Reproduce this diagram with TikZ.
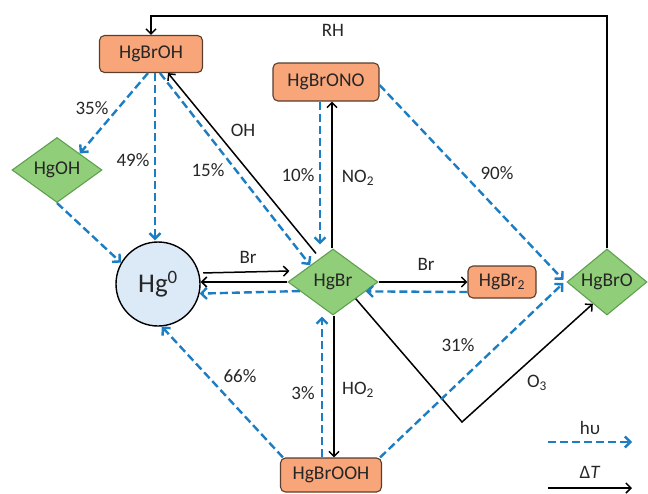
\documentclass[tikz,border=0pt]{standalone}
\usepackage{fontspec}
\setmainfont{Carlito}
\usetikzlibrary{shapes.geometric,arrows.meta,calc}
\definecolor{orfill}{RGB}{248,165,122}
\definecolor{ordraw}{RGB}{90,62,45}
\definecolor{grfill}{RGB}{145,206,122}
\definecolor{grdraw}{RGB}{95,160,80}
\definecolor{cirfill}{RGB}{220,233,247}
\definecolor{bcol}{RGB}{28,125,194}
\definecolor{tcol}{RGB}{38,38,38}
\begin{document}
\begin{tikzpicture}[x=1pt,y=-1pt,
  every node/.style={text=tcol},
  obox/.style={rectangle, rounded corners=5pt, draw=ordraw, line width=1.1pt, fill=orfill, font=\fontsize{19.5}{22}\selectfont, inner sep=0pt},
  gdia/.style={diamond, aspect=1.4, draw=grdraw, line width=1.1pt, fill=grfill, font=\fontsize{19.5}{22}\selectfont, inner sep=0pt},
  lbl/.style={font=\fontsize{19}{21}\selectfont, inner sep=0pt},
  bl/.style={draw=bcol, line width=2.4pt, dash pattern=on 8pt off 4pt, -{Straight Barb[length=5.5pt,width=11pt]}},
  bk/.style={draw=black, line width=1.5pt, -{Straight Barb[length=5pt,width=10pt]}}]
\useasboundingbox (0,0) rectangle (648,493);

% nodes
\node[obox, minimum width=103pt, minimum height=37pt] (HgBrOH) at (151,54) {HgBrOH};
\node[obox, minimum width=106pt, minimum height=38pt] (HgBrONO) at (326,82) {HgBrONO};
\node[gdia, minimum width=90pt, minimum height=65pt] (HgOH) at (57,170) {HgOH};
\node[circle, draw=black, line width=1.4pt, fill=cirfill, minimum size=84pt, inner sep=0pt, font=\fontsize{27}{30}\selectfont] (Hg0) at (158,284) {Hg\textsuperscript{0}};
\node[gdia, minimum width=90pt, minimum height=66pt] (HgBr) at (333,282) {HgBr};
\node[obox, minimum width=68pt, minimum height=32pt] (HgBr2) at (502,282) {HgBr\textsubscript{2}};
\node[gdia, minimum width=80pt, minimum height=66pt] (HgBrO) at (607,282) {HgBrO};
\node[obox, minimum width=101pt, minimum height=34pt] (HgBrOOH) at (331,475) {HgBrOOH};

% RH loop
\coordinate (rhc) at (151,16);
\draw[bk] (HgBrO.north) |- (rhc) -- (HgBrOH.north);
\node[lbl] (lRH) at (333,30) {RH};

% from HgBrOH
\draw[bl] ([xshift=-3pt]HgBrOH.south) -- (HgOH.north east);
\draw[bl] ([xshift=4pt]HgBrOH.south) -- ([xshift=4pt,yshift=1pt]HgBrOH.south |- Hg0.north);
\draw[bl] ([xshift=9pt]HgBrOH.south) -- (HgBr.north west);
\draw[bk] ($(HgBr.north)+(-17,5)$) -- ([xshift=17pt]HgBrOH.south);
\node[lbl] (l35) at (92,108) {35\%};
\node[lbl] (l49) at (133,160) {49\%};
\node[lbl] (l15) at (208,170) {15\%};
\node[lbl] (lOH) at (243,130) {OH};

% HgOH -> Hg0
\draw[bl] (HgOH.south) -- (Hg0.150);

% HgBrONO
\draw[bl] ([xshift=-6pt]HgBrONO.south) -- ([xshift=-13pt,yshift=4pt]HgBr.north);
\draw[bk] ([xshift=-1pt]HgBr.north) -- ([xshift=6pt]HgBrONO.south);
\draw[bl] ([yshift=-3pt]HgBrONO.east) -- ([xshift=-3pt,yshift=2pt]HgBrO.west);
\node[lbl] (l10) at (298,175) {10\%};
\node[lbl] (lNO2) at (358,178) {NO\textsubscript{2}};
\node[lbl] (l90) at (497,173) {90\%};

% Hg0 <-> HgBr
\draw[bk] ([xshift=4pt]Hg0.15) -- ([xshift=2pt,yshift=11pt]HgBr.west);
\draw[bk] (HgBr.west) -- (Hg0.east |- HgBr.west);
\draw[bl] ($(HgBr.west)!0.27!(HgBr.south)$) -- (Hg0.-13);
\node[lbl] (lBr1) at (248,257) {Br};

% HgBr <-> HgBr2
\draw[bk] (HgBr.east) -- (HgBr2.west);
\draw[bl] ([yshift=-10pt]HgBr2.west) -- ($(HgBr.east)!0.28!(HgBr.south)$);
\node[lbl] (lBr2) at (426,264) {Br};

% O3 path
\coordinate (o3c) at (462,422);
\draw[bk] (HgBr.south east) -- (o3c) -- ($(HgBrO.south west)!0.3!(HgBrO.south)$);
\node[lbl] (lO3) at (537,383) {O\textsubscript{3}};

% HgBrOOH
\draw[bl] ([xshift=-2pt]HgBrOOH.north east) -- ([xshift=-3pt,yshift=-1pt]HgBrO.west);
\draw[bl] ([xshift=3pt]HgBrOOH.north west) -- (Hg0.-85);
\draw[bl] ([xshift=-9pt]HgBrOOH.north) -- ([xshift=-11pt,yshift=-1pt]HgBr.south);
\draw[bk] ([xshift=1pt]HgBr.south) -- ([xshift=3pt]HgBrOOH.north);
\node[lbl] (l31) at (458,345) {31\%};
\node[lbl] (l66) at (240,376) {66\%};
\node[lbl] (l3) at (303,393) {3\%};
\node[lbl] (lHO2) at (358,390) {HO\textsubscript{2}};

% legend
\coordinate (lga) at (548,442);
\coordinate (lgb) at (632,442);
\coordinate (lgc) at (548,488);
\coordinate (lgd) at (632,488);
\draw[bl] (lga) -- (lgb);
\draw[bk] (lgc) -- (lgd);
\node[lbl] (lhv) at (590,428) {hυ};
\node[lbl] (ldT) at (590,472) {Δ\textit{T}};
\end{tikzpicture}
\end{document}
